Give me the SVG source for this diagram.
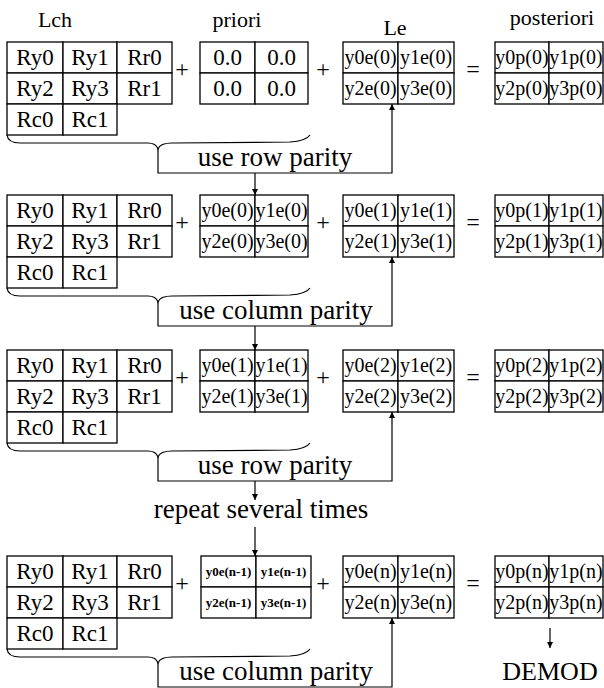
<svg xmlns="http://www.w3.org/2000/svg" width="604" height="688" viewBox="0 0 604 688">
<defs>
<marker id="ah" viewBox="0 0 10 10" refX="10" refY="5" markerWidth="9" markerHeight="6" markerUnits="userSpaceOnUse" orient="auto"><path d="M0,0 L10,5 L0,10 z" fill="#000"/></marker>
</defs>
<style>
text{font-family:"Liberation Serif","Times New Roman",serif;fill:#000;text-anchor:middle}
.c{fill:#fff;stroke:#000;stroke-width:1.3}
.t{font-family:"Liberation Serif","Times New Roman",serif;font-size:23px}
.s{font-family:"Liberation Serif","Times New Roman",serif;font-size:20px}
.b{font-family:"Liberation Serif","Times New Roman",serif;font-size:13px;font-weight:bold}
.h{font-family:"Liberation Serif","Times New Roman",serif;font-size:22px}
.l{font-family:"Liberation Serif","Times New Roman",serif;font-size:27px}
.d{font-family:"Liberation Serif","Times New Roman",serif;font-size:26px}
.op{font-family:"Liberation Serif","Times New Roman",serif;font-size:24px}
.w{fill:none;stroke:#000;stroke-width:1.2}
</style>
<rect width="604" height="688" fill="#fff"/>
<g id="headers">
<text class="h" x="55" y="27">Lch</text>
<text class="h" x="237" y="27">priori</text>
<text class="h" x="395" y="35">Le</text>
<text class="h" x="552" y="25">posteriori</text>
</g>

<!-- Block 1 -->
<g id="lch1">
<rect class="c" x="7" y="42" width="56" height="31"/><rect class="c" x="63" y="42" width="54" height="31"/><rect class="c" x="117" y="42" width="55" height="31"/>
<rect class="c" x="7" y="73" width="56" height="31"/><rect class="c" x="63" y="73" width="54" height="31"/><rect class="c" x="117" y="73" width="55" height="31"/>
<rect class="c" x="7" y="104" width="56" height="31"/><rect class="c" x="63" y="104" width="54" height="31"/>
<text class="t" x="35" y="65">Ry0</text><text class="t" x="90" y="65">Ry1</text><text class="t" x="144.5" y="65">Rr0</text>
<text class="t" x="35" y="96">Ry2</text><text class="t" x="90" y="96">Ry3</text><text class="t" x="144.5" y="96">Rr1</text>
<text class="t" x="35" y="127">Rc0</text><text class="t" x="90" y="127">Rc1</text>
</g>
<g id="priori1">
<rect class="c" x="200" y="42" width="55" height="31"/><rect class="c" x="255" y="42" width="53" height="31"/>
<rect class="c" x="200" y="73" width="55" height="31"/><rect class="c" x="255" y="73" width="53" height="31"/>
<text class="t" x="227.5" y="65">0.0</text><text class="t" x="281.5" y="65">0.0</text>
<text class="t" x="227.5" y="96">0.0</text><text class="t" x="281.5" y="96">0.0</text>
</g>
<g id="le1">
<rect class="c" x="343" y="42" width="55" height="31"/><rect class="c" x="398" y="42" width="56" height="31"/>
<rect class="c" x="343" y="73" width="55" height="31"/><rect class="c" x="398" y="73" width="56" height="31"/>
<text class="s" x="370.5" y="64">y0e(0)</text><text class="s" x="426" y="64">y1e(0)</text>
<text class="s" x="370.5" y="95">y2e(0)</text><text class="s" x="426" y="95">y3e(0)</text>
</g>
<g id="post1">
<rect class="c" x="495" y="42" width="54" height="31"/><rect class="c" x="549" y="42" width="54" height="31"/>
<rect class="c" x="495" y="73" width="54" height="31"/><rect class="c" x="549" y="73" width="54" height="31"/>
<text class="s" x="522" y="64">y0p(0)</text><text class="s" x="576" y="64">y1p(0)</text>
<text class="s" x="522" y="95">y2p(0)</text><text class="s" x="576" y="95">y3p(0)</text>
</g>
<g id="ops1">
<text class="op" x="182" y="77">+</text><text class="op" x="323" y="77">+</text><text class="op" x="473" y="77">=</text>
</g>
<g id="label1"><text class="l" x="275" y="166">use row parity</text></g>

<!-- Block 2 -->
<g id="lch2">
<rect class="c" x="7" y="195" width="56" height="31"/><rect class="c" x="63" y="195" width="54" height="31"/><rect class="c" x="117" y="195" width="55" height="31"/>
<rect class="c" x="7" y="226" width="56" height="31"/><rect class="c" x="63" y="226" width="54" height="31"/><rect class="c" x="117" y="226" width="55" height="31"/>
<rect class="c" x="7" y="257" width="56" height="31"/><rect class="c" x="63" y="257" width="54" height="31"/>
<text class="t" x="35" y="218">Ry0</text><text class="t" x="90" y="218">Ry1</text><text class="t" x="144.5" y="218">Rr0</text>
<text class="t" x="35" y="249">Ry2</text><text class="t" x="90" y="249">Ry3</text><text class="t" x="144.5" y="249">Rr1</text>
<text class="t" x="35" y="280">Rc0</text><text class="t" x="90" y="280">Rc1</text>
</g>
<g id="priori2">
<rect class="c" x="200" y="195" width="55" height="31"/><rect class="c" x="255" y="195" width="53" height="31"/>
<rect class="c" x="200" y="226" width="55" height="31"/><rect class="c" x="255" y="226" width="53" height="31"/>
<text class="s" x="227.5" y="217">y0e(0)</text><text class="s" x="281.5" y="217">y1e(0)</text>
<text class="s" x="227.5" y="248">y2e(0)</text><text class="s" x="281.5" y="248">y3e(0)</text>
</g>
<g id="le2">
<rect class="c" x="343" y="195" width="55" height="31"/><rect class="c" x="398" y="195" width="56" height="31"/>
<rect class="c" x="343" y="226" width="55" height="31"/><rect class="c" x="398" y="226" width="56" height="31"/>
<text class="s" x="370.5" y="217">y0e(1)</text><text class="s" x="426" y="217">y1e(1)</text>
<text class="s" x="370.5" y="248">y2e(1)</text><text class="s" x="426" y="248">y3e(1)</text>
</g>
<g id="post2">
<rect class="c" x="495" y="195" width="54" height="31"/><rect class="c" x="549" y="195" width="54" height="31"/>
<rect class="c" x="495" y="226" width="54" height="31"/><rect class="c" x="549" y="226" width="54" height="31"/>
<text class="s" x="522" y="217">y0p(1)</text><text class="s" x="576" y="217">y1p(1)</text>
<text class="s" x="522" y="248">y2p(1)</text><text class="s" x="576" y="248">y3p(1)</text>
</g>
<g id="ops2">
<text class="op" x="182" y="230">+</text><text class="op" x="323" y="230">+</text><text class="op" x="473" y="230">=</text>
</g>
<g id="label2"><text class="l" x="276" y="319">use column parity</text></g>

<!-- Block 3 -->
<g id="lch3">
<rect class="c" x="7" y="350" width="56" height="31"/><rect class="c" x="63" y="350" width="54" height="31"/><rect class="c" x="117" y="350" width="55" height="31"/>
<rect class="c" x="7" y="381" width="56" height="31"/><rect class="c" x="63" y="381" width="54" height="31"/><rect class="c" x="117" y="381" width="55" height="31"/>
<rect class="c" x="7" y="412" width="56" height="31"/><rect class="c" x="63" y="412" width="54" height="31"/>
<text class="t" x="35" y="373">Ry0</text><text class="t" x="90" y="373">Ry1</text><text class="t" x="144.5" y="373">Rr0</text>
<text class="t" x="35" y="404">Ry2</text><text class="t" x="90" y="404">Ry3</text><text class="t" x="144.5" y="404">Rr1</text>
<text class="t" x="35" y="435">Rc0</text><text class="t" x="90" y="435">Rc1</text>
</g>
<g id="priori3">
<rect class="c" x="200" y="350" width="55" height="31"/><rect class="c" x="255" y="350" width="53" height="31"/>
<rect class="c" x="200" y="381" width="55" height="31"/><rect class="c" x="255" y="381" width="53" height="31"/>
<text class="s" x="227.5" y="372">y0e(1)</text><text class="s" x="281.5" y="372">y1e(1)</text>
<text class="s" x="227.5" y="403">y2e(1)</text><text class="s" x="281.5" y="403">y3e(1)</text>
</g>
<g id="le3">
<rect class="c" x="343" y="350" width="55" height="31"/><rect class="c" x="398" y="350" width="56" height="31"/>
<rect class="c" x="343" y="381" width="55" height="31"/><rect class="c" x="398" y="381" width="56" height="31"/>
<text class="s" x="370.5" y="372">y0e(2)</text><text class="s" x="426" y="372">y1e(2)</text>
<text class="s" x="370.5" y="403">y2e(2)</text><text class="s" x="426" y="403">y3e(2)</text>
</g>
<g id="post3">
<rect class="c" x="495" y="350" width="54" height="31"/><rect class="c" x="549" y="350" width="54" height="31"/>
<rect class="c" x="495" y="381" width="54" height="31"/><rect class="c" x="549" y="381" width="54" height="31"/>
<text class="s" x="522" y="372">y0p(2)</text><text class="s" x="576" y="372">y1p(2)</text>
<text class="s" x="522" y="403">y2p(2)</text><text class="s" x="576" y="403">y3p(2)</text>
</g>
<g id="ops3">
<text class="op" x="182" y="385">+</text><text class="op" x="323" y="385">+</text><text class="op" x="473" y="385">=</text>
</g>
<g id="label3"><text class="l" x="275" y="474">use row parity</text></g>
<g id="repeat"><text class="l" x="261" y="518">repeat several times</text></g>

<!-- Block 4 -->
<g id="lch4">
<rect class="c" x="7" y="556" width="56" height="31"/><rect class="c" x="63" y="556" width="54" height="31"/><rect class="c" x="117" y="556" width="55" height="31"/>
<rect class="c" x="7" y="587" width="56" height="31"/><rect class="c" x="63" y="587" width="54" height="31"/><rect class="c" x="117" y="587" width="55" height="31"/>
<rect class="c" x="7" y="618" width="56" height="31"/><rect class="c" x="63" y="618" width="54" height="31"/>
<text class="t" x="35" y="579">Ry0</text><text class="t" x="90" y="579">Ry1</text><text class="t" x="144.5" y="579">Rr0</text>
<text class="t" x="35" y="610">Ry2</text><text class="t" x="90" y="610">Ry3</text><text class="t" x="144.5" y="610">Rr1</text>
<text class="t" x="35" y="641">Rc0</text><text class="t" x="90" y="641">Rc1</text>
</g>
<g id="priori4">
<rect class="c" x="201" y="556" width="55" height="31"/><rect class="c" x="256" y="556" width="55" height="31"/>
<rect class="c" x="201" y="587" width="55" height="31"/><rect class="c" x="256" y="587" width="55" height="31"/>
<text class="b" x="228.5" y="576">y0e(n-1)</text><text class="b" x="283.5" y="576">y1e(n-1)</text>
<text class="b" x="228.5" y="607">y2e(n-1)</text><text class="b" x="283.5" y="607">y3e(n-1)</text>
</g>
<g id="le4">
<rect class="c" x="343" y="556" width="55" height="31"/><rect class="c" x="398" y="556" width="56" height="31"/>
<rect class="c" x="343" y="587" width="55" height="31"/><rect class="c" x="398" y="587" width="56" height="31"/>
<text class="s" x="370.5" y="578">y0e(n)</text><text class="s" x="426" y="578">y1e(n)</text>
<text class="s" x="370.5" y="609">y2e(n)</text><text class="s" x="426" y="609">y3e(n)</text>
</g>
<g id="post4">
<rect class="c" x="495" y="556" width="54" height="31"/><rect class="c" x="549" y="556" width="54" height="31"/>
<rect class="c" x="495" y="587" width="54" height="31"/><rect class="c" x="549" y="587" width="54" height="31"/>
<text class="s" x="522" y="578">y0p(n)</text><text class="s" x="576" y="578">y1p(n)</text>
<text class="s" x="522" y="609">y2p(n)</text><text class="s" x="576" y="609">y3p(n)</text>
</g>
<g id="ops4">
<text class="op" x="182" y="591">+</text><text class="op" x="323" y="591">+</text><text class="op" x="473" y="591">=</text>
</g>
<g id="label4"><text class="l" x="276" y="680">use column parity</text></g>
<g id="demod"><text class="d" x="550" y="680">DEMOD</text></g>

<g id="connectors">
<path class="w" d="M7,135 Q8,143 20,143 L148,143 Q156,143 158,149 Q160,143 172,143 L290,142 Q306,141 310,135"/>
<path class="w" d="M7,288 Q8,296 20,296 L148,296 Q156,296 158,302 Q160,296 172,296 L290,295 Q306,294 310,288"/>
<path class="w" d="M7,443 Q8,451 20,451 L148,451 Q156,451 158,457 Q160,451 172,451 L290,450 Q306,449 310,443"/>
<path class="w" d="M7,649 Q8,657 20,657 L148,657 Q156,657 158,663 Q160,657 172,657 L290,656 Q306,655 310,649"/>
<path class="w" d="M158,149 L158,173 L392,173 L392,104" marker-end="url(#ah)"/>
<path class="w" d="M158,302 L158,326 L392,326 L392,257" marker-end="url(#ah)"/>
<path class="w" d="M158,457 L158,481 L392,481 L392,412" marker-end="url(#ah)"/>
<path class="w" d="M158,663 L158,687 L392,687 L392,618" marker-end="url(#ah)"/>
<path class="w" d="M255,173 L255,195" marker-end="url(#ah)"/>
<path class="w" d="M255,326 L255,350" marker-end="url(#ah)"/>
<path class="w" d="M255,481 L255,500" marker-end="url(#ah)"/>
<path class="w" d="M255,527 L255,556" marker-end="url(#ah)"/>
<path class="w" d="M550,628 L550,648" marker-end="url(#ah)"/>
</g>
</svg>
